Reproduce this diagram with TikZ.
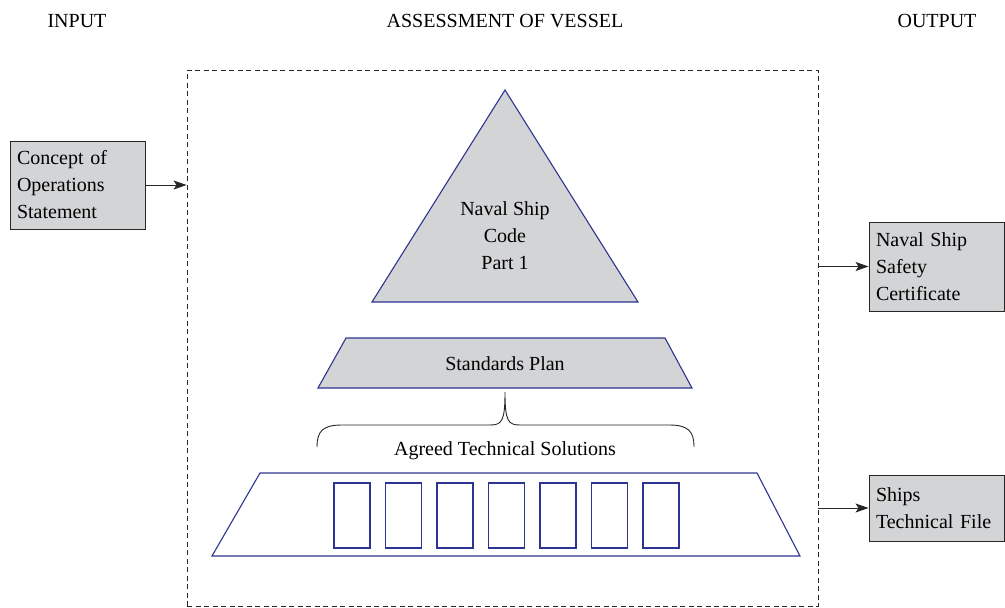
\documentclass[tikz,border=0pt]{standalone}
\usepackage{fontspec}
\setmainfont{Liberation Serif}
\usetikzlibrary{arrows.meta}
\definecolor{boxgray}{RGB}{211,212,214}
\definecolor{navy}{RGB}{46,52,146}
\begin{document}
\begin{tikzpicture}[x=1pt,y=-1pt,
  every node/.style={font=\fontsize{20}{27}\selectfont, text=black},
  header/.style={inner sep=0pt},
  gbox/.style={draw=black!85, fill=boxgray, line width=0.9pt, minimum width=135pt,
     text width=121pt, align=left, inner xsep=7pt, inner ysep=4pt},
  blueline/.style={draw=navy, line width=1.1pt, line join=miter},
  cell/.style={draw=navy, line width=1.1pt, minimum width=36pt, minimum height=65pt, inner sep=0pt},
  arr/.style={-{Stealth[length=13pt,width=9pt,inset=3pt]}, line width=0.9pt, draw=black!85},
  frame/.style={draw=black!85, line width=0.9pt, dash pattern=on 5pt off 3.5pt, minimum width=631pt, minimum height=536pt, inner sep=0pt}]
\useasboundingbox (0,0) rectangle (1005,608);

% headers
\node[header] (hin) at (77,21) {INPUT};
\node[header] (hass) at (505,21) {ASSESSMENT OF VESSEL};
\node[header] (hout) at (937,21) {OUTPUT};

% dashed assessment frame
\node[frame] (assess) at (502.5,338) {};

% input / output boxes
\node[gbox, minimum height=88pt] (concept) at (77.5,185) {Concept of\\Operations\\Statement};
\node[gbox, minimum height=89pt] (cert) at (936.5,266.5) {Naval Ship\\Safety\\Certificate};
\node[gbox, minimum height=66pt] (techfile) at (936.5,508) {Ships\\Technical File};

\draw[arr] (concept.east) -- (concept.east -| assess.west);
\draw[arr] (assess.east |- cert.west) -- (cert.west);
\draw[arr] (assess.east |- techfile.west) -- (techfile.west);

% triangle
\draw[blueline, fill=boxgray] (505,90) -- (638,302) -- (372,302) -- cycle;
\node[align=center] (code) at (505,236) {Naval Ship\\Code\\Part 1};

% standards plan trapezoid
\draw[blueline, fill=boxgray] (346,338) -- (665,338) -- (692,388) -- (318,388) -- cycle;
\node (plan) at (505,364) {Standards Plan};

% brace
\coordinate (braceL) at (317,447);
\coordinate (braceR) at (694,447);
\coordinate (braceT) at (505,392);
\draw[line width=0.9pt, black!85] (braceL) .. controls (317,431) and (323,425) .. (342,425)
   -- (490,425) .. controls (502,425) and (505,421) .. (braceT)
   .. controls (505,421) and (508,425) .. (520,425) -- (669,425)
   .. controls (688,425) and (694,431) .. (braceR);
\node (ats) at (505,451) {Agreed Technical Solutions};

% bottom trapezoid with cells
\draw[blueline, fill=white] (260,473) -- (757,473) -- (800,556) -- (212,556) -- cycle;
\foreach \i in {0,...,6} {
  \node[cell] (cell\i) at (352+51.5*\i,515.5) {};
}
\end{tikzpicture}
\end{document}
